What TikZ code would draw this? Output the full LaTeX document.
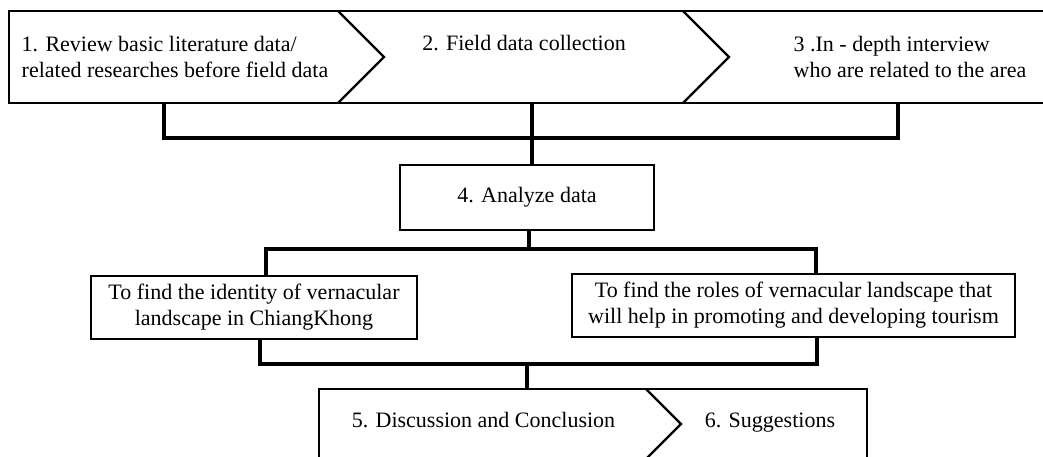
\documentclass[tikz,border=0pt]{standalone}
\usepackage{fontspec}
\setmainfont{Liberation Serif}
\begin{document}
\begin{tikzpicture}[
  x=1pt, y=-1pt,
  every node/.style={font=\fontsize{22}{26}\selectfont, inner sep=0pt},
  band/.style={line width=2.2pt},
  txt/.style={align=left},
  label/.style={anchor=base},
  goal/.style={rectangle, draw, line width=2.2pt, align=center, minimum height=63},
  line/.style={line width=3.3pt}
]
\useasboundingbox (0,0) rectangle (1043,456);

% Steps 1-3
\draw[band] (1060,11) -- (9,11) -- (9,103) -- (1060,103);
\draw[band] (338,11) -- (384,57) -- (338,103);
\draw[band] (683,11) -- (729,57) -- (683,103);
\node[txt] (review) at (175,57) {1. Review basic literature data/\\related researches before field data};
\node[label] (field) at (524,50) {2. Field data collection};
\node[txt] (interview) at (910,57) {3 .In - depth interview\\who are related to the area};
\coordinate (reviewout) at (164,103);
\coordinate (fieldout) at (532,103);
\coordinate (interviewout) at (898,103);

% Step 4
\node[goal, minimum width=254, minimum height=65] (analyze) at (527,197.5) {4. Analyze data};

% Aims
\node[goal, minimum width=326] (identity) at (254,307.5) {To find the identity of vernacular\\landscape in ChiangKhong};
\node[goal, minimum width=443] (roles) at (793.5,305.5) {To find the roles of vernacular landscape that\\will help in promoting and developing tourism};

% Steps 5-6
\draw[band] (319,389) rectangle (867,459);
\draw[band] (646,389) -- (681,424) -- (646,459);
\node[label] (discussion) at (483.5,427) {5. Discussion and Conclusion};
\node[label] (suggest) at (770,427) {6. Suggestions};
\coordinate (discussionin) at (527,389);

% Lines
\draw[line] (reviewout) -- ++(0,35) -| (interviewout);
\draw[line] (fieldout) -- (fieldout |- analyze.north);
\draw[line] ([xshift=2pt]analyze.south) -- ++(0,19);
\draw[line] ([xshift=12pt]identity.north) -- ++(0,-26) -| ([xshift=22.5pt]roles.north);
\draw[line] ([xshift=6pt]identity.south) -- ++(0,24) -| ([xshift=23.5pt]roles.south);
\draw[line] (discussionin) -- ++(0,-26);
\end{tikzpicture}
\end{document}
